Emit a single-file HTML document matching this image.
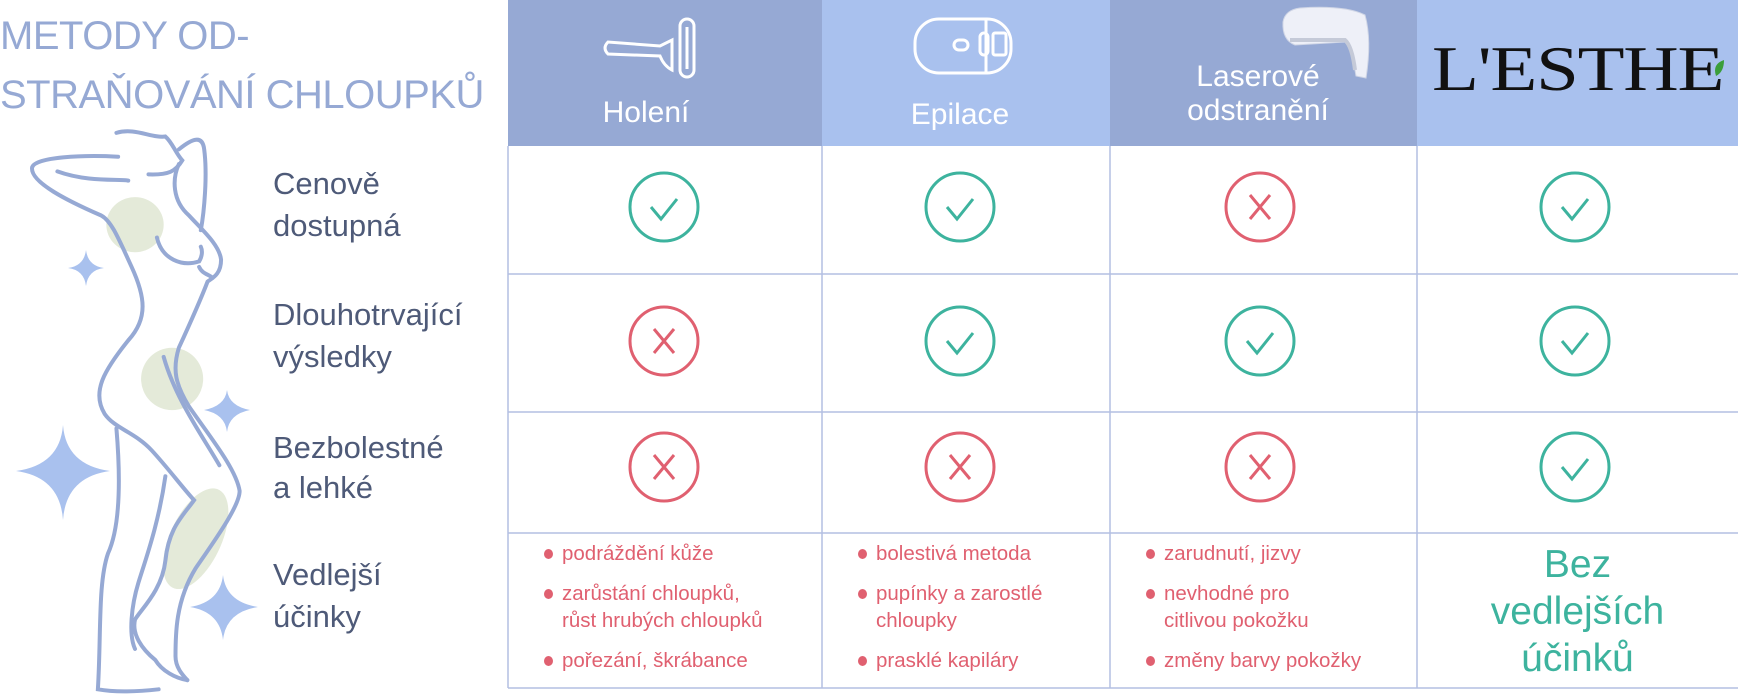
<!DOCTYPE html>
<html><head><meta charset="utf-8"><style>
body{margin:0;width:1738px;height:696px;background:#fff;position:relative;overflow:hidden;font-family:"Liberation Sans",sans-serif}
.a{position:absolute;white-space:nowrap}
.t{color:#96a9d4;font-size:40px;left:0;letter-spacing:-0.5px}
.lab{color:#4e5a78;font-size:31px;left:273px}
.h{color:#fff;font-size:30px;transform:translateX(-50%)}
.s{color:#e06070;font-size:20.5px;line-height:27px}
.s:before{content:"";position:absolute;left:-18px;top:9px;width:9px;height:10px;border-radius:50%;background:#e06070}
</style></head><body>
<div class="a t" style="top:14px">METODY OD-</div>
<div class="a t" style="top:73px">STRAŇOVÁNÍ CHLOUPKŮ</div>

<svg class="a" style="left:0;top:0" width="508" height="696">
<g transform="translate(0,120) scale(0.3375,0.3673)">
<ellipse cx="400" cy="285" rx="85" ry="75" fill="#e4ead9"/>
<ellipse cx="510" cy="705" rx="92" ry="85" fill="#e4ead9"/>
<ellipse cx="580" cy="1140" rx="75" ry="150" transform="rotate(28 580 1140)" fill="#e4ead9"/>
<g fill="none" stroke="#96a9d4" stroke-width="4" stroke-linecap="round">
<path vector-effect="non-scaling-stroke" d="M350,100 C250,95 100,100 95,130 C90,170 200,220 300,260 C330,275 350,320 390,400 C430,480 440,540 380,600 C310,680 270,740 310,800 C340,840 400,850 450,900 C500,950 540,1000 575,1035 C540,1080 500,1110 490,1200 C480,1280 420,1330 400,1360 C390,1400 420,1440 460,1470 C480,1500 520,1520 555,1525"/>
<path vector-effect="non-scaling-stroke" d="M345,35 C400,20 450,50 490,45 C510,60 520,90 540,110 C520,140 500,150 440,148"/>
<path vector-effect="non-scaling-stroke" d="M530,80 C570,50 600,40 605,80 C615,150 605,250 595,300"/>
<path vector-effect="non-scaling-stroke" d="M530,120 C510,160 510,220 560,260 C600,300 650,340 655,380 C655,420 630,430 615,440 C590,500 560,560 530,620 C510,680 520,720 560,780 C620,860 700,950 710,1010 C710,1050 640,1140 580,1220 C520,1310 520,1400 520,1460 C520,1490 540,1510 555,1525"/>
<path vector-effect="non-scaling-stroke" d="M465,320 C480,380 540,400 590,385 C600,370 600,355 595,345"/>
<path vector-effect="non-scaling-stroke" d="M590,400 C600,420 620,420 630,430"/>
<path vector-effect="non-scaling-stroke" d="M170,140 C260,170 350,160 380,165"/>
<path vector-effect="non-scaling-stroke" d="M485,645 C520,760 600,860 650,940"/>
<path vector-effect="non-scaling-stroke" d="M345,840 C355,950 360,1100 320,1180 C290,1260 300,1400 290,1550 C350,1560 420,1555 470,1550"/>
<path vector-effect="non-scaling-stroke" d="M490,970 C470,1100 430,1200 410,1260 C390,1320 380,1400 400,1440"/>
</g></g>
<g fill="#a9c1ee">
<path d="M86,250 Q88,266 104,268 Q88,270 86,286 Q84,270 68,268 Q84,266 86,250Z"/>
<path d="M227,390 Q229,406 250,410 Q229,414 227,432 Q225,414 204,410 Q225,406 227,390Z"/>
<path d="M63,425 Q66,465 110,471 Q66,477 63,520 Q60,477 16,471 Q60,465 63,425Z"/>
<path d="M223,575 Q226,602 258,607 Q226,612 223,640 Q220,612 190,607 Q220,602 223,575Z"/>
</g>
</svg>

<div class="a lab" style="top:166px">Cenově</div>
<div class="a lab" style="top:208px">dostupná</div>
<div class="a lab" style="top:297px">Dlouhotrvající</div>
<div class="a lab" style="top:339px">výsledky</div>
<div class="a lab" style="top:430px">Bezbolestné</div>
<div class="a lab" style="top:470px">a lehké</div>
<div class="a lab" style="top:557px">Vedlejší</div>
<div class="a lab" style="top:599px">účinky</div>

<svg class="a" style="left:0;top:0" width="1738" height="696">
<rect x="508" y="0" width="314" height="146" fill="#96a9d4"/>
<rect x="822" y="0" width="288" height="146" fill="#a9c1ee"/>
<rect x="1110" y="0" width="307" height="146" fill="#96a9d4"/>
<rect x="1417" y="0" width="321" height="146" fill="#a9c1ee"/>
<g stroke="#b3bfe2" stroke-width="1.5">
<line x1="508" y1="146" x2="508" y2="688"/><line x1="822" y1="146" x2="822" y2="688"/>
<line x1="1110" y1="146" x2="1110" y2="688"/><line x1="1417" y1="146" x2="1417" y2="688"/>
<line x1="508" y1="274" x2="1738" y2="274"/><line x1="508" y1="412" x2="1738" y2="412"/>
<line x1="508" y1="533" x2="1738" y2="533"/><line x1="508" y1="688" x2="1738" y2="688"/>
</g>
<g fill="none" stroke="#fff" stroke-width="3">
<path d="M608,42 Q602,48 608,54 L660,56 Q664,66 672,70 L672,40 Q664,44 660,46 Z"/>
<rect x="680" y="19" width="14" height="58" rx="7"/><line x1="687" y1="27" x2="687" y2="69"/>
<rect x="915" y="19" width="96" height="54" rx="24"/>
<line x1="986" y1="19" x2="986" y2="73"/>
<rect x="954" y="40" width="14" height="10" rx="5"/><rect x="980" y="33" width="8" height="22" rx="4"/>
<rect x="993" y="33" width="13" height="22" rx="2"/>
</g>
<path d="M1283,22 Q1285,10 1300,8 Q1345,5 1365,15 Q1372,40 1366,78 L1356,76 Q1352,50 1345,42 L1295,45 Q1282,40 1283,22Z" fill="#eef0f8" stroke="#d0d6e6"/>
<path d="M1290,40 L1345,40 Q1352,46 1355,70" fill="none" stroke="#c5cad8" stroke-width="4"/>
<g fill="none" stroke-width="3">
<g stroke="#3db39e">
<circle cx="664" cy="207" r="34"/><circle cx="960" cy="207" r="34"/><circle cx="1575" cy="207" r="34"/>
<circle cx="960" cy="341" r="34"/><circle cx="1260" cy="341" r="34"/><circle cx="1575" cy="341" r="34"/>
<circle cx="1575" cy="467" r="34"/>
<path d="M651,207 l10,12 l16,-20 M947,207 l10,12 l16,-20 M1562,207 l10,12 l16,-20 M947,341 l10,12 l16,-20 M1247,341 l10,12 l16,-20 M1562,341 l10,12 l16,-20 M1562,467 l10,12 l16,-20"/>
</g>
<g stroke="#e06070">
<circle cx="1260" cy="207" r="34"/><circle cx="664" cy="341" r="34"/>
<circle cx="664" cy="467" r="34"/><circle cx="960" cy="467" r="34"/><circle cx="1260" cy="467" r="34"/>
<path d="M1250,195 l20,24 m0,-24 l-20,24 M654,329 l20,24 m0,-24 l-20,24 M654,455 l20,24 m0,-24 l-20,24 M950,455 l20,24 m0,-24 l-20,24 M1250,455 l20,24 m0,-24 l-20,24"/>
</g></g>
<path d="M1716,76 Q1712,64 1724,60 Q1724,72 1716,76Z" fill="#3a9e3a"/>
</svg>

<div class="a h" style="left:646px;top:96px">Holení</div>
<div class="a h" style="left:960px;top:98px">Epilace</div>
<div class="a h" style="left:1258px;top:60px">Laserové</div>
<div class="a h" style="left:1258px;top:94px">odstranění</div>
<div class="a" style="left:1432px;top:32px;font-family:'Liberation Serif',serif;font-size:64px;color:#111;transform:scaleX(1.2);transform-origin:left;letter-spacing:-1px">L'ESTHE</div>

<div class="a s" style="left:562px;top:540px">podráždění kůže</div>
<div class="a s" style="left:562px;top:580px">zarůstání chloupků,<br>růst hrubých chloupků</div>
<div class="a s" style="left:562px;top:647px">pořezání, škrábance</div>
<div class="a s" style="left:876px;top:540px">bolestivá metoda</div>
<div class="a s" style="left:876px;top:580px">pupínky a zarostlé<br>chloupky</div>
<div class="a s" style="left:876px;top:647px">prasklé kapiláry</div>
<div class="a s" style="left:1164px;top:540px">zarudnutí, jizvy</div>
<div class="a s" style="left:1164px;top:580px">nevhodné pro<br>citlivou pokožku</div>
<div class="a s" style="left:1164px;top:647px">změny barvy pokožky</div>
<div class="a" style="left:1417px;width:321px;top:541px;text-align:center;color:#3db39e;font-size:39px;line-height:47px">Bez<br>vedlejších<br>účinků</div>
</body></html>
